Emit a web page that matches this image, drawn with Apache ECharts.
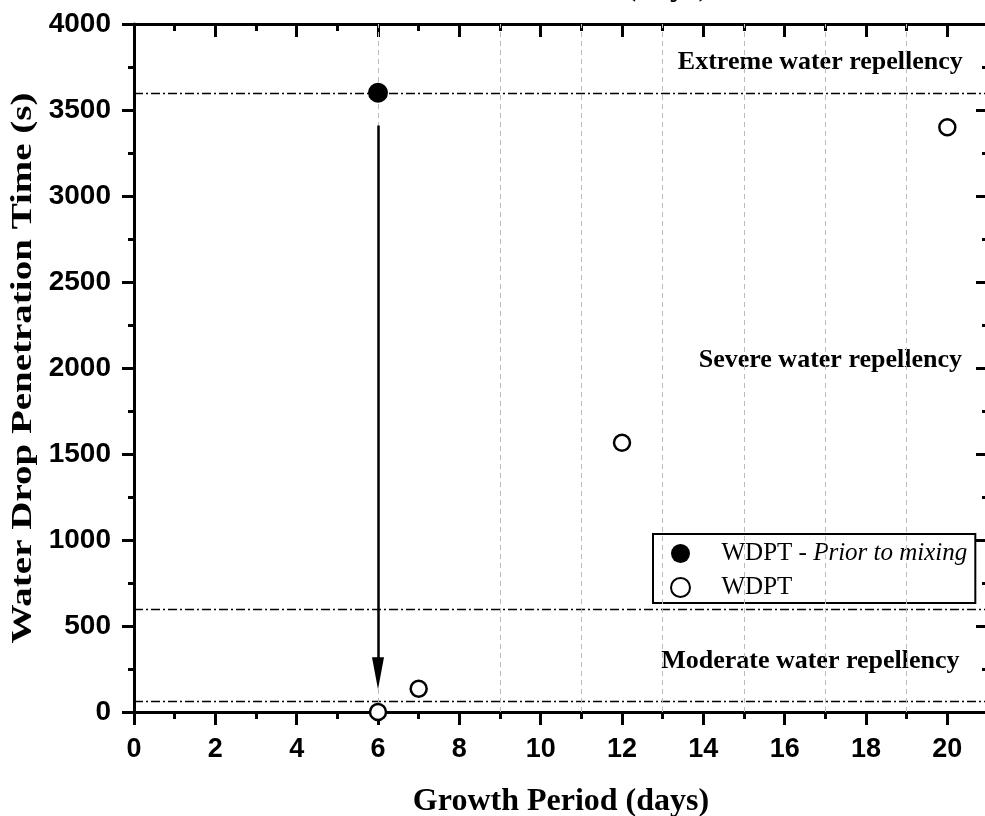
<!DOCTYPE html>
<html><head><meta charset="utf-8">
<script src="https://cdn.jsdelivr.net/npm/echarts@6/dist/echarts.min.js"></script>
<style>html,body{margin:0;padding:0;background:#fff}#c{width:985px;height:816px}</style>
</head><body><div id="c"></div>
<script>
// ---- data ----
var priorSeries = [[6, 3600]];                        // WDPT - Prior to mixing
var wdptSeries = [[6, 0], [7, 135], [12, 1565], [20, 3400]]; // WDPT
var classThresholds = [60, 600, 3600];                 // dash-dot class lines (s)
var gridXLines = [6, 9, 11, 13, 15, 17, 19];           // light dashed vertical lines
var arrowFrom = [6, 3410];
var arrowTo = [6, 225];
var regionLabels = [
  [20.38, 3775, 'Extreme water repellency'],
  [20.36, 2045, 'Severe water repellency'],
  [20.30, 292, 'Moderate water repellency']
];
var xRange = [0, 21], xStep = 2;
var yRange = [0, 4000], yStep = 500;
var xTitle = 'Growth Period (days)';
var yTitle = 'Water Drop Penetration Time (s)';

var serif = '"Liberation Serif","Times New Roman",serif';
var sans = '"Liberation Sans",Arial,sans-serif';

var chart = echarts.init(document.getElementById('c'), null, {renderer: 'canvas'});
var axisLine = {show: true, onZero: false, lineStyle: {color: '#000', width: 3}};
function plain(v) { return String(v); }
function xAx(pos, inside, showLabel, name, nameGap) {
  return {
    type: 'value', position: pos, min: xRange[0], max: xRange[1], interval: xStep,
    axisLine: axisLine,
    axisTick: {show: true, inside: inside, length: 13, lineStyle: {width: 3, color: '#000'}},
    minorTick: {show: true, splitNumber: 2, length: 7, lineStyle: {width: 3, color: '#000'}},
    axisLabel: {show: showLabel, formatter: plain, fontFamily: sans, fontWeight: 'bold', fontSize: 27, color: '#000', margin: 24,
      showMaxLabel: false},
    splitLine: {show: false},
    name: name, nameLocation: 'middle', nameGap: nameGap,
    nameTextStyle: {fontFamily: serif, fontWeight: 'bold', fontSize: 32, color: '#000'}
  };
}
function yAx(pos, inside, showLabel) {
  return {
    type: 'value', position: pos, min: yRange[0], max: yRange[1], interval: yStep,
    axisLine: axisLine,
    axisTick: {show: true, inside: inside, length: 12, lineStyle: {width: 3, color: '#000'}},
    minorTick: {show: true, splitNumber: 2, length: 6, lineStyle: {width: 3, color: '#000'}},
    axisLabel: {show: showLabel, formatter: plain, fontFamily: sans, fontWeight: 'bold', fontSize: 28, color: '#000', margin: 23},
    splitLine: {show: false}
  };
}

var option = {
  animation: false,
  backgroundColor: '#fff',
  grid: {left: 134, right: -3, top: 24, bottom: 104, containLabel: false, outerBoundsMode: 'none'},
  xAxis: [
    xAx('bottom', false, true, xTitle, 74),
    xAx('top', true, false, xTitle, 21)
  ],
  yAxis: [
    yAx('left', false, true),
    yAx('right', true, false)
  ],
  graphic: [{
    type: 'text',
    x: 23, y: 368, rotation: Math.PI / 2, scaleX: 1.3,
    style: {text: yTitle, fontFamily: serif, fontWeight: 'bold', fontSize: 30, fill: '#000',
      align: 'center', verticalAlign: 'middle'}
  }],
  legend: {
    orient: 'vertical', left: 653, top: 534,
    data: ['WDPT - Prior to mixing', 'WDPT'],
    backgroundColor: '#fff', borderColor: '#000', borderWidth: 2, borderRadius: 0,
    padding: [7, 8, 3, 17], itemGap: 9, itemWidth: 20, itemHeight: 19,
    formatter: function (n) {
      return n === 'WDPT' ? '{n|WDPT}' : '{n|WDPT - }{i|Prior to mixing}';
    },
    textStyle: {
      padding: [0, 0, 0, 26],
      rich: {
        n: {fontFamily: serif, fontSize: 25, lineHeight: 24, color: '#000'},
        i: {fontFamily: serif, fontSize: 25, lineHeight: 24, fontStyle: 'italic', color: '#000'}
      }
    }
  },
  series: [
    {
      type: 'scatter', name: 'guides', data: [], silent: true, z: 1,
      markLine: {
        silent: true, symbol: ['none', 'none'], animation: false,
        label: {show: false},
        data: classThresholds.map(function (v) {
          return {yAxis: v, lineStyle: {color: '#000', width: 1.3, type: [9, 3, 2, 3]}};
        }).concat(gridXLines.map(function (v) {
          return {xAxis: v, lineStyle: {color: '#bbb', width: 1, type: [5, 4]}};
        }))
      }
    },
    {
      type: 'scatter', name: 'arrow', data: [], silent: true, z: 3,
      markLine: {
        silent: true, animation: false, symbol: ['none', 'triangle'], symbolSize: [12, 32],
        label: {show: false},
        lineStyle: {color: '#000', width: 2.5, type: 'solid'},
        data: [[{coord: arrowFrom}, {coord: arrowTo}]]
      }
    },
    {
      type: 'scatter', name: 'WDPT - Prior to mixing', data: priorSeries, clip: false, z: 5,
      symbol: 'circle', symbolSize: 20,
      itemStyle: {color: '#000', borderColor: '#000', borderWidth: 0, opacity: 1}
    },
    {
      type: 'scatter', name: 'WDPT', data: wdptSeries, clip: false, z: 5,
      symbol: 'circle', symbolSize: 16,
      itemStyle: {color: '#fff', borderColor: '#000', borderWidth: 2.5, opacity: 1}
    },
    {
      type: 'scatter', name: 'regions', data: regionLabels, symbolSize: 0, silent: true, z: 4,
      itemStyle: {opacity: 1},
      label: {
        show: true, position: 'left', distance: 0,
        formatter: function (p) { return p.value[2]; },
        fontFamily: serif, fontWeight: 'bold', fontSize: 26, color: '#000'
      }
    }
  ]
};
chart.setOption(option);
</script></body></html>
